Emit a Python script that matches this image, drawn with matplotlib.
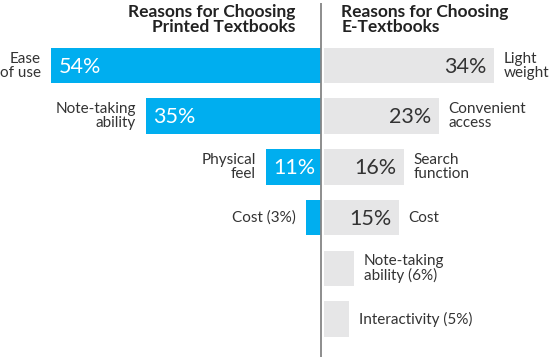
import numpy as np
import matplotlib
matplotlib.use('Agg')
import matplotlib.pyplot as plt

# --- DADOS ---
titulo_esquerda = 'Reasons for Choosing\nPrinted Textbooks'
titulo_direita = 'Reasons for Choosing\nE-Textbooks'

rotulos_impresso = ['Ease\nof use', 'Note-taking\nability', 'Physical\nfeel', 'Cost (3%)']
valores_impresso = [54, 35, 11, 3]

rotulos_digital = ['Light\nweight', 'Convenient\naccess', 'Search\nfunction', 'Cost',
                   'Note-taking\nability (6%)', 'Interactivity (5%)']
valores_digital = [34, 23, 16, 15, 6, 5]

# --- ESTILO ---
ESTILO = {
    'AZUL': '#00AEEF',
    'CINZA_BARRA': '#E6E6E7',
    'CINZA_LINHA': '#858585',
    'TEXTO': '#333333',
    'FONTE': ['Lato', 'DejaVu Sans'],
    'ALTURA_BARRA': 0.70,
    'LIMITE_ROTULO_INTERNO': 10,   # abaixo disso o % vai no rótulo externo
}


def desenhar_lado_esquerdo(ax):
    posicoes = np.arange(len(valores_impresso))
    ax.barh(posicoes, [-v for v in valores_impresso], left=-0.1,
            height=ESTILO['ALTURA_BARRA'], color=ESTILO['AZUL'], linewidth=0)
    for i, (valor, rotulo) in enumerate(zip(valores_impresso, rotulos_impresso)):
        inicio = -0.1 - valor
        ax.text(inicio - 2.0, i, rotulo, ha='right', va='center', fontsize=11,
                color=ESTILO['TEXTO'], linespacing=1.0)
        if valor >= ESTILO['LIMITE_ROTULO_INTERNO']:
            ax.text(inicio + 1.5, i + 0.02, f'{valor}%', ha='left', va='center',
                    fontsize=15.5, color='white')


def desenhar_lado_direito(ax):
    posicoes = np.arange(len(valores_digital))
    ax.barh(posicoes, valores_digital, left=0.44,
            height=ESTILO['ALTURA_BARRA'], color=ESTILO['CINZA_BARRA'], linewidth=0)
    for i, (valor, rotulo) in enumerate(zip(valores_digital, rotulos_digital)):
        fim = 0.44 + valor
        ax.text(fim + 2.0, i, rotulo, ha='left', va='center', fontsize=11,
                color=ESTILO['TEXTO'], linespacing=1.0)
        if valor >= ESTILO['LIMITE_ROTULO_INTERNO']:
            ax.text(fim - 1.5, i + 0.02, f'{valor}%', ha='right', va='center',
                    fontsize=15.5, color=ESTILO['TEXTO'])


def main():
    plt.rcParams['font.family'] = ESTILO['FONTE']

    fig = plt.figure(figsize=(5.5, 3.6), dpi=100)
    ax = fig.add_axes([0, 0, 1, 1])
    ax.set_xlim(-64.3, 45.7)
    ax.set_ylim(5.809, -1.292)
    ax.axis('off')

    desenhar_lado_esquerdo(ax)
    desenhar_lado_direito(ax)

    # linha central
    ax.vlines(0, -1.233, 5.749, color=ESTILO['CINZA_LINHA'], linewidth=1.3)

    # títulos
    ax.text(-5.3, -0.91, titulo_esquerda, ha='right', va='center', fontsize=12.5,
            fontweight='bold', color='#222222', linespacing=0.92)
    ax.text(4.0, -0.91, titulo_direita, ha='left', va='center', fontsize=12.5,
            fontweight='bold', color='#222222', linespacing=0.92)

    fig.savefig('out.png', dpi=100)


if __name__ == "__main__":
    main()
